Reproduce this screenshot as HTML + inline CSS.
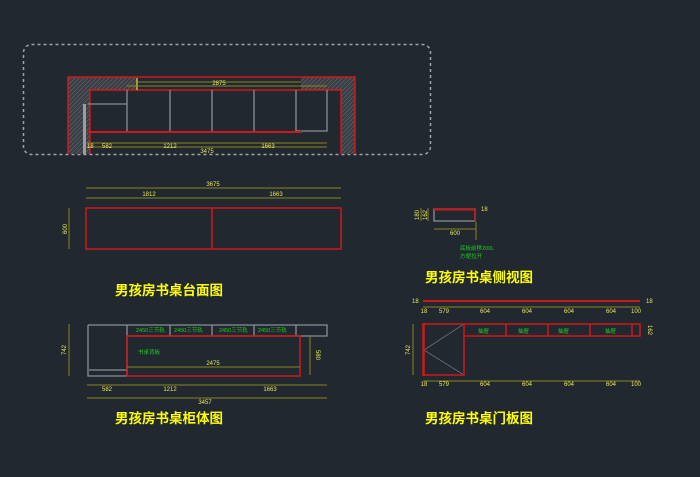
<!DOCTYPE html>
<html><head><meta charset="utf-8"><style>
html,body{margin:0;padding:0;background:#212830;}
svg{display:block;}
text{font-family:"Liberation Sans","Noto Sans CJK SC",sans-serif;}
.t{fill:#ffff00;font-weight:bold;font-size:13.5px;font-family:"Liberation Sans","Noto Sans CJK SC",sans-serif;}
.d{fill:#e8e85a;font-size:6px;}
.g{fill:#22cc22;font-size:5.5px;}
.dl{stroke:#8a8420;stroke-width:1;fill:none;}
.r{stroke:#d01818;stroke-width:1.5;fill:none;}
.gr{stroke:#8a8e94;stroke-width:1.3;fill:none;}
</style></head><body>
<svg width="700" height="477" viewBox="0 0 700 477" xmlns="http://www.w3.org/2000/svg">
<defs>
<pattern id="h" width="3" height="3" patternUnits="userSpaceOnUse" patternTransform="rotate(45)">
<rect width="3" height="3" fill="#3a3e44"/><line x1="0" y1="0" x2="0" y2="3" stroke="#6a6e74" stroke-width="1"/>
</pattern>
</defs>
<rect width="700" height="477" fill="#212830"/>
<!-- top plan -->
<rect x="23.5" y="44.5" width="407" height="110" rx="8" fill="none" stroke="#a0a4a8" stroke-width="1.5" stroke-dasharray="3,3"/>
<path d="M68 77 H137 V90 H90 V154 H68 Z" fill="url(#h)"/>
<path d="M301 77 H355 V154 H341 V90 H301 Z" fill="url(#h)"/>
<path class="r" d="M68 154 V77 H355 V154"/>
<path class="r" d="M90 154 V90 H341 V154"/>
<rect x="83" y="104" width="3" height="50" fill="#9a9ea4"/>
<path class="gr" d="M88 104 H127 M127 90 V131 M170 90 V131 M212 90 V131 M254 90 V131 M296 90 V131 M327 90 V131 H296"/>
<line x1="87" y1="132" x2="302" y2="132" stroke="#d01818" stroke-width="2"/>
<line x1="137" y1="78" x2="137" y2="90" stroke="#d8d040" stroke-width="1.3"/>
<path class="dl" d="M137 82 H301 M127 86 H327 M87 143 H327 M87 147 H327"/>
<text class="d" x="219" y="85" text-anchor="middle">2875</text>
<text class="d" x="107" y="148" text-anchor="middle">582</text>
<text class="d" x="170" y="148" text-anchor="middle">1212</text>
<text class="d" x="268" y="148" text-anchor="middle">1663</text>
<text class="d" x="207" y="153" text-anchor="middle">3475</text>
<text class="d" x="87" y="148">18</text>
<!-- desk top -->
<path class="dl" d="M86 188 H341 M86 198 H341 M69 208 V249"/>
<text class="d" x="213" y="186" text-anchor="middle">3675</text>
<text class="d" x="149" y="196" text-anchor="middle">1812</text>
<text class="d" x="276" y="196" text-anchor="middle">1663</text>
<text class="d" x="67" y="229" text-anchor="middle" transform="rotate(-90 67 229)">600</text>
<rect class="r" x="86" y="208" width="255" height="41"/>
<line class="r" x1="212" y1="208" x2="212" y2="249"/>
<text class="t" x="115" y="295">男孩房书桌台面图</text>
<!-- cabinet -->
<path class="gr" d="M88 325 H327 V336 H128 M88 325 V376 H127 M89 370 H127 M127 325 V376 M170 325 V336 M212 325 V336 M254 325 V336 M296 325 V336"/>
<rect class="r" x="127" y="336" width="173" height="40"/>
<text class="g" x="136" y="332">2450三节轨</text>
<text class="g" x="174" y="332">2450三节轨</text>
<text class="g" x="219" y="332">2450三节轨</text>
<text class="g" x="258" y="332">2450三节轨</text>
<text class="g" x="138" y="354">书桌背板</text>
<path class="dl" d="M127 367 H300 M310 335 V375 M69 324 V376 M87 385 H327 M87 398 H327"/>
<text class="d" x="213" y="365" text-anchor="middle">2475</text>
<text class="d" x="316" y="355" text-anchor="middle" transform="rotate(90 316 355)">580</text>
<text class="d" x="66" y="350" text-anchor="middle" transform="rotate(-90 66 350)">742</text>
<text class="d" x="107" y="391" text-anchor="middle">582</text>
<text class="d" x="170" y="391" text-anchor="middle">1212</text>
<text class="d" x="270" y="391" text-anchor="middle">1663</text>
<text class="d" x="205" y="404" text-anchor="middle">3457</text>
<text class="t" x="115" y="423">男孩房书桌柜体图</text>
<!-- side view -->
<rect class="gr" x="434" y="209" width="41" height="12"/>
<line x1="434" y1="209.5" x2="475" y2="209.5" stroke="#d01818" stroke-width="2"/>
<line x1="475" y1="209" x2="475" y2="221" stroke="#d01818" stroke-width="1.5"/>
<path class="dl" d="M434 229 H476 M476 222 V240 M421 208 V221 M428 208 V221"/>
<text class="d" x="455" y="235" text-anchor="middle">600</text>
<text class="d" x="419" y="215" text-anchor="middle" transform="rotate(-90 419 215)">180</text>
<text class="d" x="427" y="215" text-anchor="middle" transform="rotate(-90 427 215)">162</text>
<text class="d" x="481" y="211">18</text>
<text class="g" x="460" y="250">底板前移200L</text>
<text class="g" x="460" y="258">方便拉开</text>
<text class="t" x="425" y="282">男孩房书桌侧视图</text>
<!-- door -->
<line x1="423" y1="301" x2="640" y2="301" stroke="#d01818" stroke-width="2"/>
<path class="dl" d="M423 307 H640 M423 381 H640 M413 324 V375"/>
<text class="d" x="412" y="303">18</text><text class="d" x="646" y="303">18</text>
<g class="d" text-anchor="middle">
<text x="424" y="313">18</text><text x="444" y="313">579</text><text x="485" y="313">604</text><text x="527" y="313">604</text><text x="569" y="313">604</text><text x="611" y="313">604</text><text x="636" y="313">100</text>
<text x="424" y="386">18</text><text x="444" y="386">579</text><text x="485" y="386">604</text><text x="527" y="386">604</text><text x="569" y="386">604</text><text x="611" y="386">604</text><text x="636" y="386">100</text>
</g>
<path d="M424 350 L464 324 M424 350 L464 375" stroke="#6a6e74" stroke-width="0.8" fill="none"/>
<path class="r" d="M424 324 H640 V336 H464 M464 324 V375 H424 M506 324 V336 M548 324 V336 M590 324 V336 M632 324 V336"/>
<line x1="423.5" y1="323" x2="423.5" y2="376" stroke="#d01818" stroke-width="2.5"/>
<text class="g" x="478" y="333">抽屉</text><text class="g" x="518" y="333">抽屉</text><text class="g" x="558" y="333">抽屉</text><text class="g" x="605" y="333">抽屉</text>
<text class="d" x="410" y="350" text-anchor="middle" transform="rotate(-90 410 350)">742</text>
<text class="d" x="648" y="330" text-anchor="middle" transform="rotate(90 648 330)">162</text>
<text class="t" x="425" y="423">男孩房书桌门板图</text>
</svg>
</body></html>
